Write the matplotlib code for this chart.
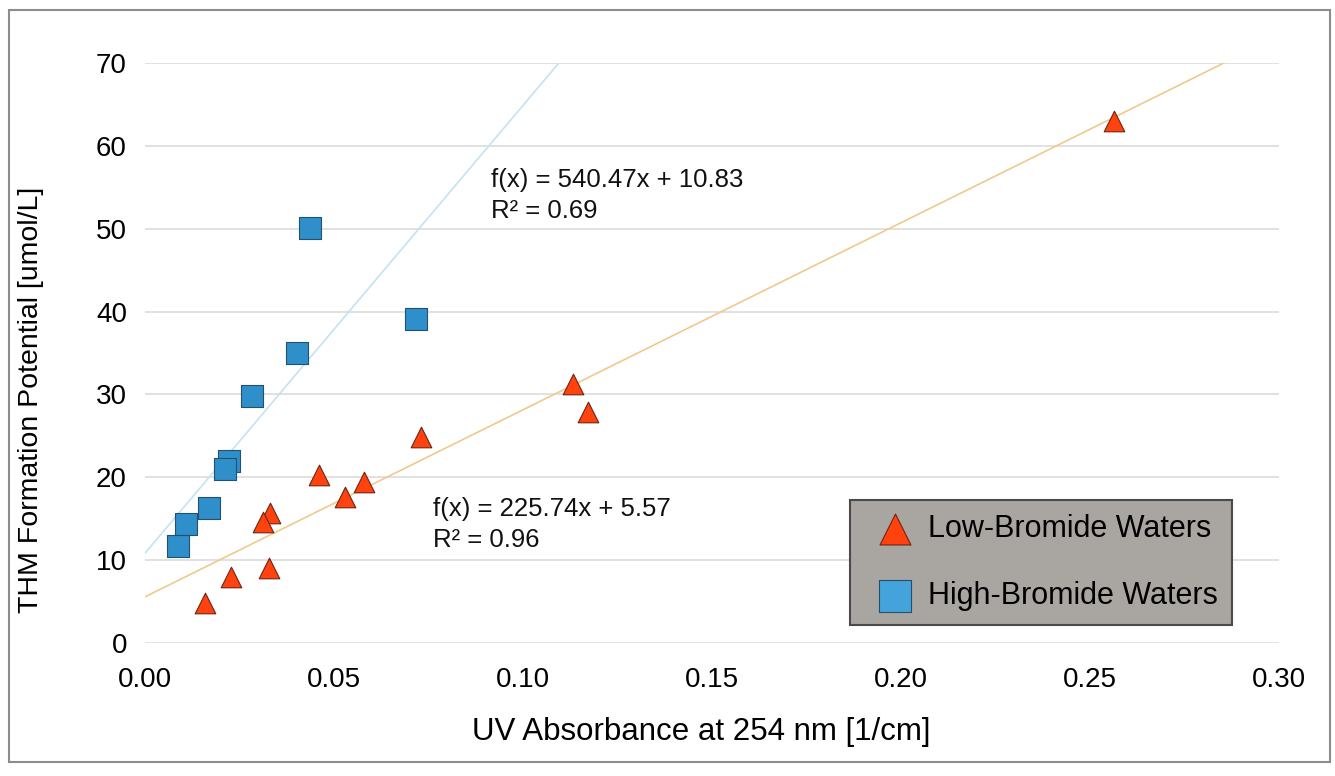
import numpy as np
import matplotlib.pyplot as plt
from matplotlib.patches import Rectangle

plt.rcParams['font.family'] = ['Liberation Sans', 'DejaVu Sans']

# low-bromide waters
low_uv = [0.2563, 0.1132, 0.1172, 0.0730, 0.0460, 0.0579, 0.0529, 0.0331, 0.0312, 0.0328, 0.0228, 0.0159]
low_thm = [63.0, 31.3, 27.9, 24.9, 20.3, 19.4, 17.6, 15.7, 14.6, 9.1, 8.0, 4.8]

# high-bromide waters
high_uv = [0.0437, 0.0717, 0.0402, 0.0283, 0.0222, 0.0212, 0.0169, 0.0108, 0.0087]
high_thm = [50.1, 39.1, 35.0, 29.8, 22.0, 21.0, 16.3, 14.4, 11.7]

# linear trend lines (slope, intercept, r2)
low_fit = (225.74, 5.57, 0.96)
high_fit = (540.47, 10.83, 0.69)

xticks = [0.00, 0.05, 0.10, 0.15, 0.20, 0.25, 0.30]
yticks = [0, 10, 20, 30, 40, 50, 60, 70]

fig = plt.figure(figsize=(13.35, 7.76), dpi=100)
ax = fig.add_axes([0.1086, 0.1714, 0.8494, 0.7474])

# outer frame
fig.patches.append(Rectangle((0.007, 0.018), 0.989, 0.969, transform=fig.transFigure,
                             fill=False, edgecolor='#8c8c8c', linewidth=1.5))

xx = np.linspace(0, 0.3, 200)
ax.plot(xx, high_fit[0] * xx + high_fit[1], color='#c4e2f3', linewidth=1.2, zorder=2)
ax.plot(xx, low_fit[0] * xx + low_fit[1], color='#f0c98c', linewidth=1.2, zorder=2)

ax.scatter(low_uv, low_thm, marker='^', s=220, color='#ff420e', edgecolors='#6e2412',
           linewidths=0.8, zorder=4, label='Low-Bromide Waters')
ax.scatter(high_uv, high_thm, marker='s', s=250, color='#2e8fcb', edgecolors='#24506c',
           linewidths=0.8, zorder=3, label='High-Bromide Waters')

ax.text(0.0915, 57.3, 'f(x) = %.2fx + %.2f\nR² = %.2f' % high_fit, fontsize=18.5,
        va='top', ha='left', linespacing=1.35, color='#111111')
ax.text(0.0762, 17.6, 'f(x) = %.2fx + %.2f\nR² = %.2f' % low_fit, fontsize=18.5,
        va='top', ha='left', linespacing=1.35, color='#111111')

ax.set_xlim(0, 0.3)
ax.set_ylim(0, 70)
ax.set_xticks(xticks)
ax.set_xticklabels(['%.2f' % t for t in xticks])
ax.set_yticks(yticks)
ax.tick_params(axis='x', length=0, labelsize=20, pad=17)
ax.tick_params(axis='y', length=0, labelsize=20, pad=13)
ax.grid(axis='y', color='#dcdcdc', linewidth=1.2)
ax.set_axisbelow(True)
for s in ax.spines.values():
    s.set_visible(False)

ax.set_xlabel('UV Absorbance at 254 nm [1/cm]', fontsize=22.5)
ax.set_ylabel('THM Formation Potential [umol/L]', fontsize=20.5)
ax.xaxis.set_label_coords(0.491, -0.128)
ax.yaxis.set_label_coords(-0.089, 0.42)

leg = ax.legend(loc='lower right', bbox_to_anchor=(0.9228, 0.1946),
                bbox_transform=fig.transFigure, fontsize=22, markerscale=1.5,
                frameon=True, fancybox=False, labelspacing=1.22, borderpad=0.45,
                handlelength=2.0, handletextpad=0.1, borderaxespad=0)
leg.get_frame().set_facecolor('#a9a5a1')
leg.get_frame().set_edgecolor('#4a4a4a')
leg.get_frame().set_linewidth(1.5)
leg.get_frame().set_alpha(1)
leg.legend_handles[1].set_facecolor('#45a3dc')

fig.savefig('out.png', dpi=100)
